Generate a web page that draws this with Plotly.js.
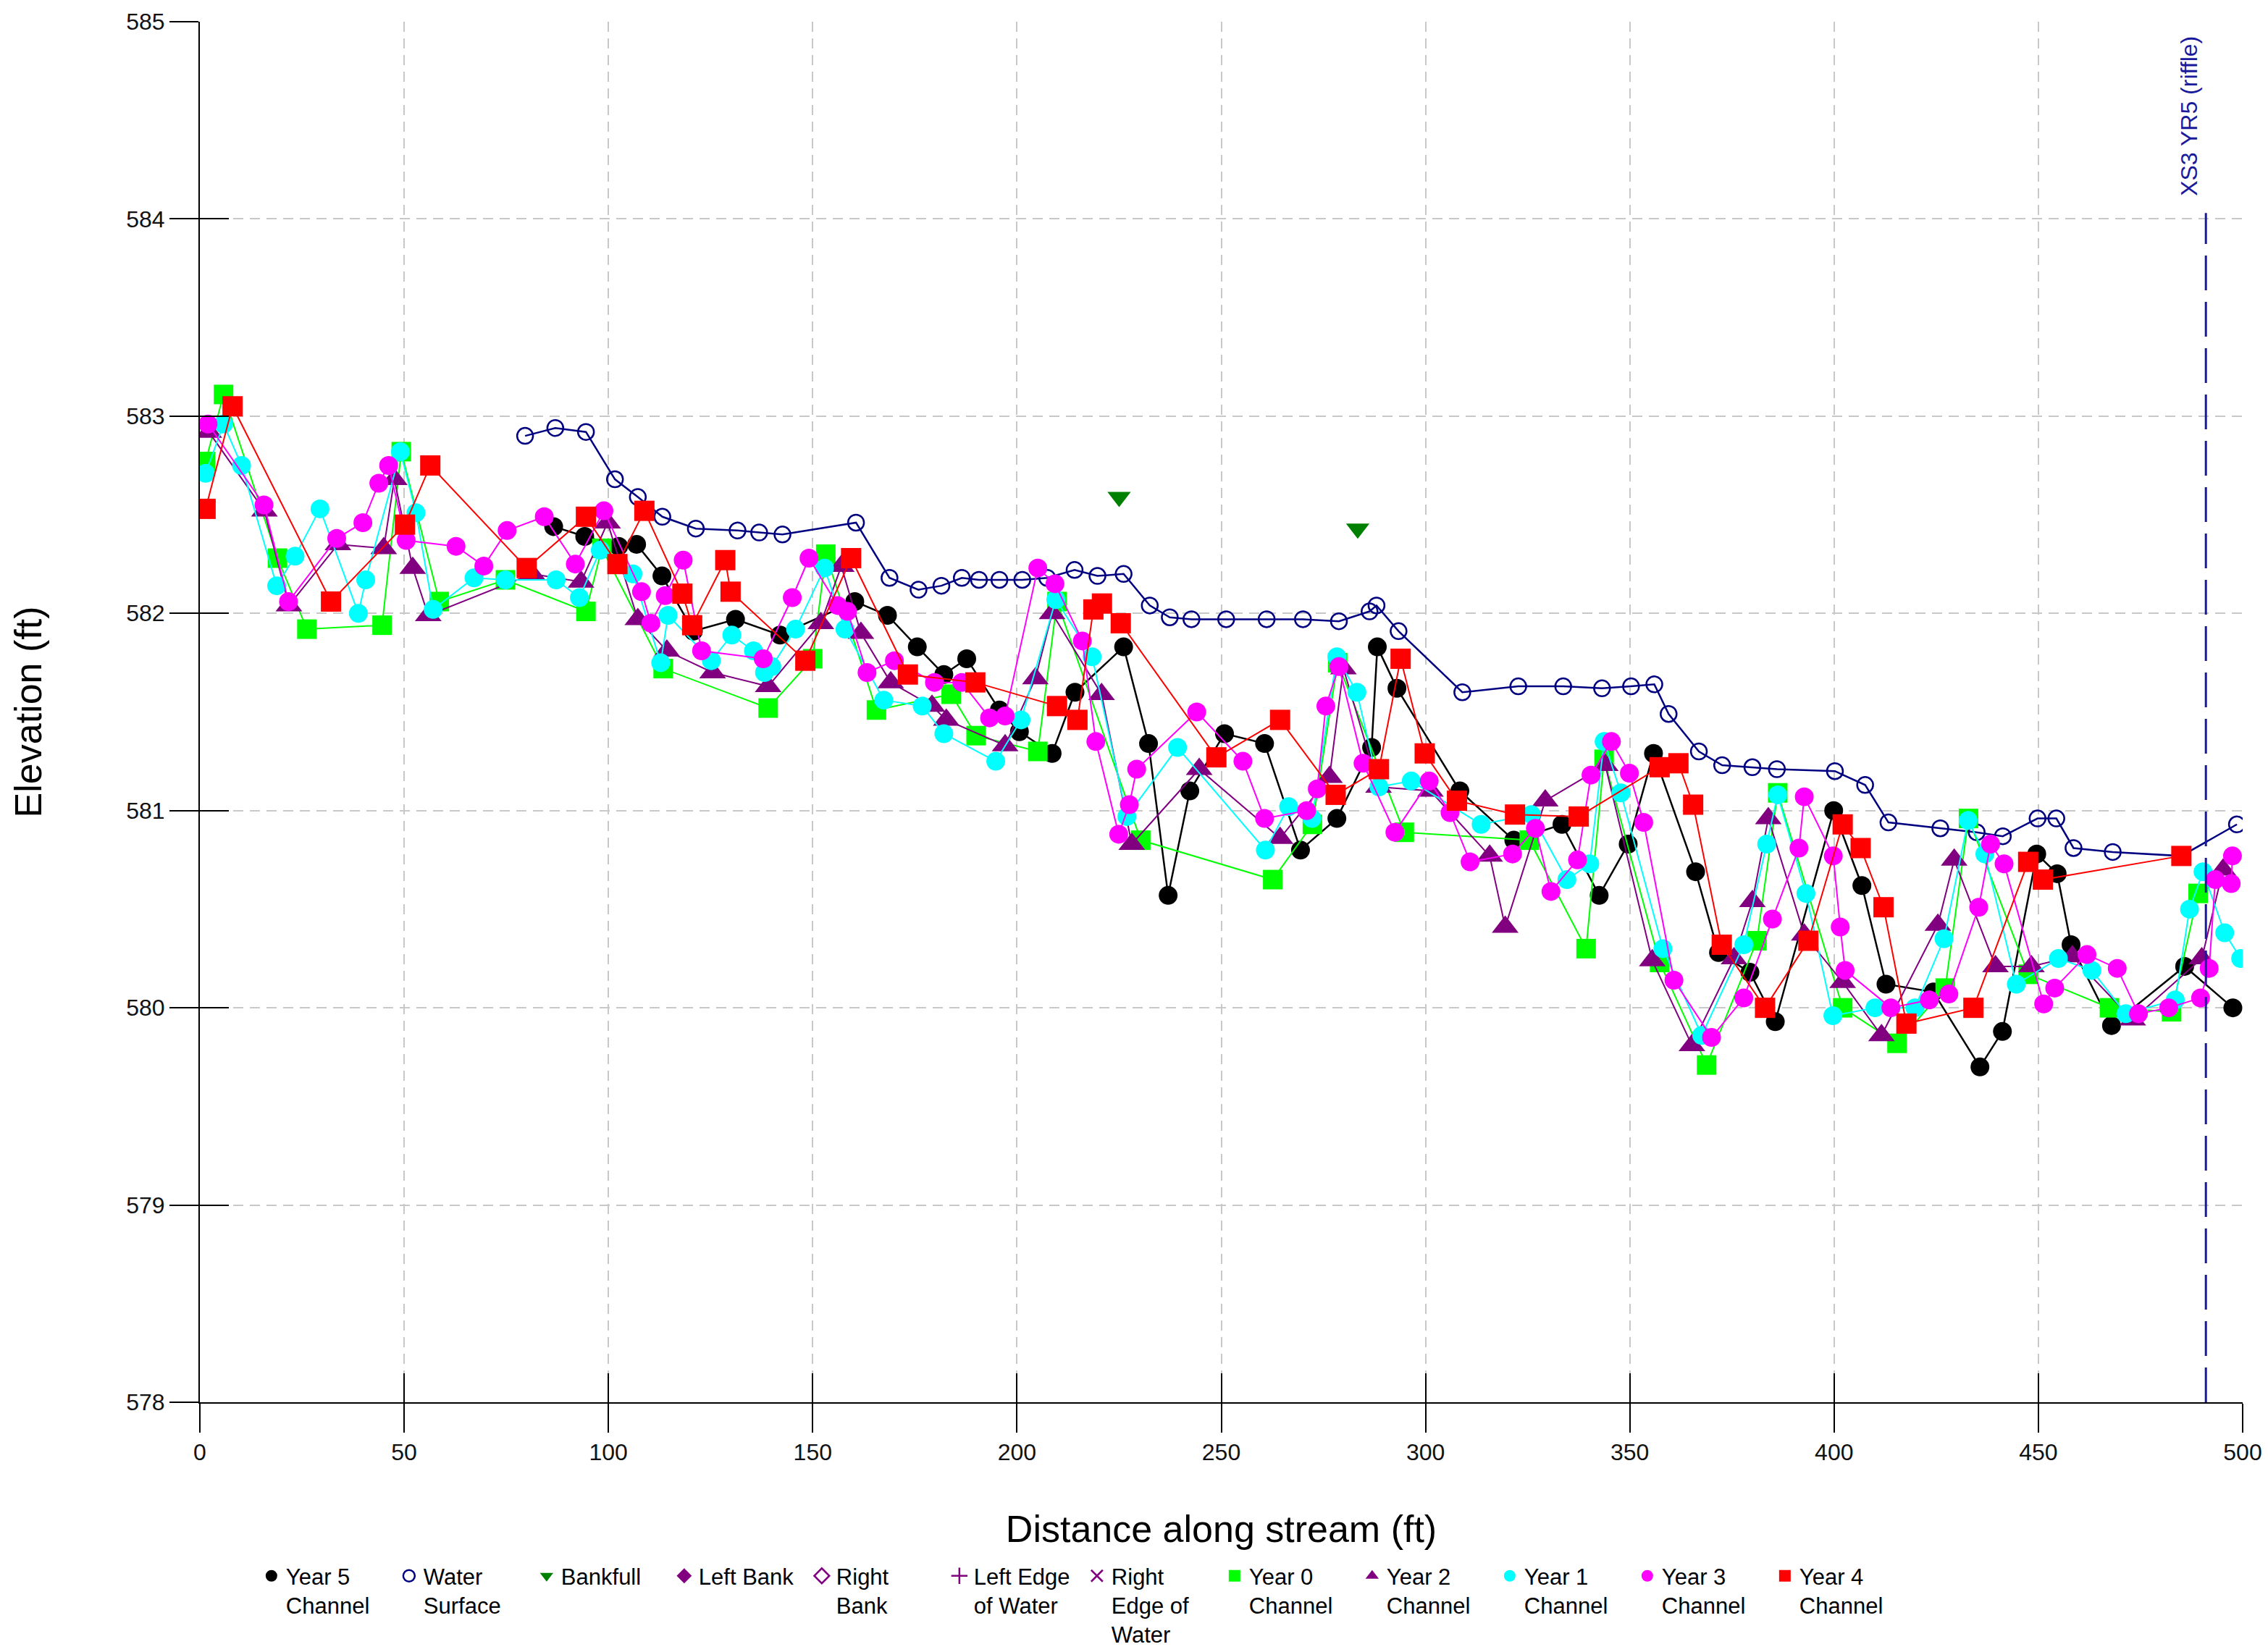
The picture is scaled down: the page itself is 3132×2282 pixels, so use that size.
<!DOCTYPE html>
<html><head><meta charset="utf-8">
<script src="https://cdn.plot.ly/plotly-3.0.1.min.js"></script>
<style>html,body{margin:0;padding:0;background:#fff}#chart{width:3132px;height:2282px}</style>
</head><body><div id="chart"></div>
<script>
// ---- data (station in ft, elevation in ft) ----
const year5X = [86.6,94.2,102.5,106.9,113.1,120.8,131.1,142.0,160.3,168.3,175.6,182.1,187.7,195.7,200.6,208.6,214.2,226.1,232.2,237.0,242.3,250.8,260.6,269.4,278.3,286.8,288.2,293.0,308.4,321.6,333.4,342.5,349.6,355.8,366.1,371.7,379.4,385.6,399.9,406.8,412.7,424.3,435.7,441.2,449.6,454.6,458.0,467.9,485.8,497.6];
const year5Y = [582.44,582.39,582.34,582.35,582.19,581.91,581.97,581.89,582.06,581.99,581.83,581.69,581.77,581.51,581.40,581.29,581.60,581.83,581.34,580.57,581.10,581.39,581.34,580.80,580.96,581.32,581.83,581.62,581.10,580.85,580.93,580.57,580.83,581.29,580.69,580.28,580.18,579.93,581.00,580.62,580.12,580.08,579.70,579.88,580.78,580.68,580.32,579.91,580.21,580.00];

const waterX = [79.6,87.0,94.5,101.6,107.2,113.2,121.4,131.6,136.9,142.6,160.6,168.8,175.9,181.5,186.5,190.7,195.7,201.3,207.4,214.1,219.7,226.1,232.5,237.4,242.7,251.2,261.1,270.0,278.8,286.3,288.0,293.4,309.0,322.7,333.7,343.2,350.3,356.0,359.5,366.9,372.6,380.0,386.0,400.2,407.6,413.3,426.0,434.9,441.3,449.8,454.4,458.6,468.2,485.0,498.6];
const waterY = [582.90,582.94,582.92,582.68,582.59,582.49,582.43,582.42,582.41,582.40,582.46,582.18,582.12,582.14,582.18,582.17,582.17,582.17,582.18,582.22,582.19,582.20,582.04,581.98,581.97,581.97,581.97,581.97,581.96,582.01,582.04,581.91,581.60,581.63,581.63,581.62,581.63,581.64,581.49,581.30,581.23,581.22,581.21,581.20,581.13,580.94,580.91,580.89,580.87,580.96,580.96,580.81,580.79,580.77,580.93];

const bankfullX = [225.0,283.4];
const bankfullY = [582.59,582.43];

const year0X = [1.4,5.8,19.0,26.2,44.6,49.3,58.6,74.8,94.5,98.4,113.4,139.1,150.0,153.2,165.6,183.9,190.0,205.1,209.8,230.3,262.6,272.3,278.5,294.8,325.4,339.3,343.7,357.3,368.8,381.1,386.2,402.1,415.4,427.2,432.9,447.5,467.4,482.6,489.1];
const year0Y = [582.77,583.11,582.28,581.92,581.94,582.82,582.06,582.17,582.01,582.33,581.72,581.52,581.77,582.30,581.51,581.59,581.38,581.30,582.06,580.85,580.65,580.93,581.75,580.89,580.85,580.30,581.26,580.23,579.71,580.34,581.09,580.00,579.82,580.10,580.96,580.17,580.00,579.98,580.58];

const year2X = [2.2,15.8,21.8,33.8,45.0,47.6,52.1,55.9,81.3,93.3,99.8,107.2,114.3,125.5,139.1,152.0,157.0,161.8,169.1,179.2,182.7,197.1,204.5,208.6,220.7,228.1,244.6,264.4,276.5,279.9,288.5,301.2,315.7,319.5,329.3,344.0,355.5,365.2,375.5,380.0,383.9,392.7,402.1,411.6,425.4,429.4,439.5,448.3,458.3,473.1,490.0,495.2];
const year2Y = [582.92,582.52,582.04,582.35,582.33,582.68,582.23,581.99,582.20,582.16,582.46,581.97,581.81,581.70,581.63,581.95,582.24,581.90,581.65,581.53,581.46,581.33,581.67,582.00,581.59,580.83,581.21,580.86,581.17,581.72,581.12,581.10,580.77,580.41,581.05,581.23,580.24,579.81,580.25,580.54,580.96,580.37,580.13,579.86,580.42,580.75,580.21,580.21,580.26,579.94,580.25,580.70];

const year1X = [1.4,5.8,10.2,18.8,23.3,29.4,38.8,40.6,49.1,52.9,57.1,67.1,74.8,87.2,92.9,98.0,106.0,112.8,114.6,125.2,130.2,135.5,138.2,140.0,145.8,152.9,157.9,167.4,176.8,182.1,194.8,201.0,209.5,218.4,226.9,239.3,260.8,266.5,272.2,278.3,283.2,288.6,296.5,313.6,325.9,334.6,340.2,343.7,347.8,358.1,367.6,377.9,383.5,386.2,393.1,399.7,410.0,419.8,426.9,432.8,436.9,444.6,454.9,463.1,471.4,483.5,487.0,490.3,495.6,499.5];
const year1Y = [582.71,582.96,582.75,582.14,582.29,582.53,582.00,582.17,582.82,582.51,582.02,582.18,582.17,582.17,582.08,582.32,582.20,581.75,581.99,581.76,581.89,581.81,581.70,581.73,581.92,582.23,581.92,581.56,581.53,581.39,581.25,581.46,582.07,581.78,580.97,581.32,580.80,581.02,580.96,581.78,581.60,581.12,581.15,580.93,580.98,580.65,580.73,581.35,581.09,580.30,579.86,580.32,580.83,581.08,580.58,579.96,580.00,580.00,580.35,580.95,580.78,580.12,580.25,580.19,579.97,580.04,580.50,580.69,580.38,580.25];

const year3X = [2.0,15.7,21.7,33.5,39.9,43.8,46.2,50.5,62.7,69.5,75.2,84.3,91.9,98.9,108.1,110.4,113.9,118.3,122.8,137.9,145.0,149.1,156.1,158.5,163.3,170.0,179.8,186.5,193.3,197.1,205.1,209.3,216.0,219.3,224.9,227.5,229.3,244.0,255.3,260.6,270.9,273.5,275.6,278.8,284.7,292.5,300.9,306.0,310.9,321.3,326.9,330.7,337.2,340.5,345.5,349.9,353.4,360.8,370.0,377.9,384.9,391.4,392.7,399.8,401.5,402.7,413.9,423.3,428.1,435.4,438.3,441.6,451.3,454.0,461.9,469.3,474.5,481.9,489.7,491.8,493.3,497.2,497.5];
const year3Y = [582.96,582.55,582.06,582.38,582.46,582.66,582.75,582.37,582.34,582.24,582.42,582.49,582.25,582.52,582.11,581.95,582.09,582.27,581.81,581.77,582.08,582.28,582.04,582.01,581.70,581.76,581.65,581.65,581.47,581.48,582.23,582.15,581.86,581.35,580.88,581.03,581.21,581.50,581.25,580.96,581.00,581.11,581.53,581.73,581.24,580.89,581.15,580.99,580.74,580.78,580.91,580.59,580.75,581.18,581.35,581.19,580.94,580.14,579.85,580.05,580.45,580.81,581.07,580.77,580.41,580.19,580.00,580.04,580.07,580.51,580.83,580.73,580.02,580.10,580.27,580.20,579.97,580.00,580.05,580.20,580.65,580.63,580.77];

const year4X = [1.4,8.0,32.1,50.2,56.4,80.0,94.5,102.2,108.8,118.1,120.5,128.6,129.9,148.2,159.4,173.3,189.8,209.8,214.8,218.7,220.8,225.4,248.8,264.4,278.0,288.6,293.9,299.8,307.7,321.9,337.5,357.3,361.9,365.5,372.5,383.1,393.7,402.1,406.5,412.1,417.7,434.1,447.5,451.1,485.0];
const year4Y = [582.53,583.05,582.06,582.45,582.75,582.23,582.49,582.25,582.52,582.10,581.94,582.27,582.11,581.76,582.28,581.69,581.65,581.53,581.46,582.02,582.05,581.95,581.27,581.46,581.08,581.21,581.77,581.29,581.05,580.98,580.97,581.22,581.24,581.03,580.32,580.00,580.34,580.93,580.81,580.51,579.92,580.00,580.74,580.65,580.77];

const xs3Station = 491.0;
const xs3Label = 'XS3 YR5 (riffle)';
const xTicks = [0,50,100,150,200,250,300,350,400,450,500];
const yTicks = [578,579,580,581,582,583,584,585];

// ---- styles ----
const FONT = 'Liberation Sans, Arial, Helvetica, sans-serif';
const traces = [];
function addSeries(name, x, y, color, symbol, size, lineWidth, open) {
  traces.push({x:x, y:y, type:'scatter', mode:'lines', line:{color:color, width:lineWidth},
    showlegend:false, hoverinfo:'skip', legendgroup:name});
  traces.push({x:x, y:y, type:'scatter', mode:'markers', name:name, legendgroup:name,
    marker: open ? {symbol:symbol, size:size, color:color, line:{color:color, width:2.5}}
                 : {symbol:symbol, size:size, color:color, line:{width:0}}});
}
function addLegendOnly(name, color, symbol, open) {
  traces.push({x:[null], y:[null], type:'scatter', mode:'markers', name:name,
    marker: open ? {symbol:symbol, size:22, color:color, line:{color:color, width:2.5}}
                 : {symbol:symbol, size:22, color:color, line:{width:0}}});
}

addSeries('Year 5<br>Channel', year5X, year5Y, '#000000', 'circle', 26, 2.5, false);
addSeries('Water<br>Surface', waterX, waterY, '#000080', 'circle-open', 22, 2.5, true);
traces.push({x:bankfullX, y:bankfullY, type:'scatter', mode:'markers', name:'Bankfull',
  marker:{symbol:'triangle-down', size:28, color:'#008000', line:{width:0}}});
addLegendOnly('Left Bank', '#800080', 'diamond', false);
addLegendOnly('Right<br>Bank', '#800080', 'diamond-open', true);
addLegendOnly('Left Edge<br>of Water', '#800080', 'cross-thin-open', true);
addLegendOnly('Right<br>Edge of<br>Water', '#800080', 'x-thin-open', true);
addSeries('Year 0<br>Channel', year0X, year0Y, '#00ff00', 'square', 27, 2, false);
addSeries('Year 2<br>Channel', year2X, year2Y, '#800080', 'triangle-up', 32, 2, false);
addSeries('Year 1<br>Channel', year1X, year1Y, '#00ffff', 'circle', 26, 2, false);
addSeries('Year 3<br>Channel', year3X, year3Y, '#ff00ff', 'circle', 26, 2, false);
addSeries('Year 4<br>Channel', year4X, year4Y, '#ff0000', 'square', 28, 2, false);

// dummy trace on overlay axes (gives the inside half of the crossing tick marks)
traces.push({x:[null], y:[null], type:'scatter', mode:'markers', xaxis:'x2', yaxis:'y2',
  showlegend:false, hoverinfo:'skip'});

const xRange = [xTicks[0], xTicks[xTicks.length-1]];
const yRange = [yTicks[0], yTicks[yTicks.length-1]];

const gridStyle = {showgrid:true, gridcolor:'#c8c8c8', gridwidth:2, griddash:'14px,9px'};
const layout = {
  width:3132, height:2282,
  margin:{l:276, r:35, t:30, b:345},
  paper_bgcolor:'#ffffff', plot_bgcolor:'#ffffff',
  font:{family:FONT, size:32, color:'#000'},
  showlegend:true,
  xaxis: Object.assign({
    range:xRange, tickvals:xTicks, ticks:'outside', ticklen:40, tickwidth:2, tickcolor:'#000',
    showline:true, linecolor:'#000', linewidth:2, zeroline:false, automargin:false,
    tickfont:{family:FONT, size:32, color:'#111'},
    title:{text:'Distance along stream (ft)', font:{family:FONT, size:52, color:'#000'}, standoff:70}
  }, gridStyle),
  yaxis: Object.assign({
    range:yRange, tickvals:yTicks, ticks:'outside', ticklen:40, tickwidth:2, tickcolor:'#000',
    showline:true, linecolor:'#000', linewidth:2, zeroline:false, automargin:false,
    tickfont:{family:FONT, size:32, color:'#111'},
    title:{text:'Elevation (ft)', font:{family:FONT, size:52, color:'#000'}, standoff:100}
  }, gridStyle),
  xaxis2:{overlaying:'x', anchor:'y2', side:'bottom', range:xRange, tickvals:xTicks,
    ticks:'inside', ticklen:40, tickwidth:2, tickcolor:'#000', showticklabels:false,
    showgrid:false, zeroline:false, showline:false},
  yaxis2:{overlaying:'y', anchor:'x2', side:'left', range:yRange, tickvals:yTicks,
    ticks:'inside', ticklen:40, tickwidth:2, tickcolor:'#000', showticklabels:false,
    showgrid:false, zeroline:false, showline:false},
  legend:{orientation:'h', xref:'container', yref:'container', x:0.1133, y:0.0578,
    xanchor:'left', yanchor:'top',
    font:{family:FONT, size:31, color:'#000'}, bgcolor:'rgba(0,0,0,0)',
    entrywidth:145, entrywidthmode:'pixels', valign:'top', itemwidth:30, tracegroupgap:0},
  shapes:[{type:'line', xref:'x', yref:'y', x0:xs3Station, x1:xs3Station, y0:yRange[0], y1:584.03,
    line:{color:'#1a1a9c', width:3, dash:'48px,16px'}}],
  annotations:[{x:xs3Station-4.1, y:584.52, xref:'x', yref:'y', text:xs3Label, textangle:-90,
    showarrow:false, xanchor:'center', yanchor:'middle',
    font:{family:FONT, size:32, color:'#1a1a9c'}}]
};

Plotly.newPlot('chart', traces, layout, {displayModeBar:false, staticPlot:true});
</script></body></html>
